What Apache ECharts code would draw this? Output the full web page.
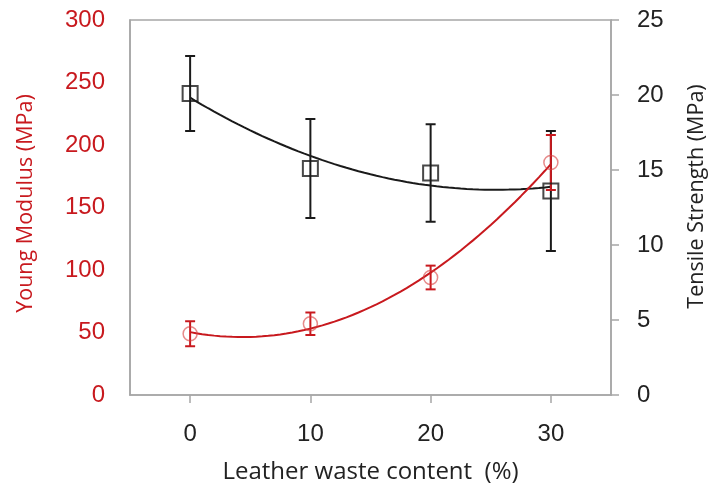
<!DOCTYPE html>
<html>
<head>
<meta charset="utf-8">
<script src="https://cdn.jsdelivr.net/npm/echarts@6/dist/echarts.min.js"></script>
<style>
  html, body { margin: 0; padding: 0; background: #fff; }
  #chart { width: 711px; height: 491px; }
</style>
</head>
<body>
<div id="chart"></div>
<script>
// Leather waste content (%)
const wasteContent = [0, 10, 20, 30];
// Young modulus (MPa) and its standard deviation
const youngModulus = [49, 57, 94, 186];
const youngModulusErr = [10, 9, 9.5, 22];
// Tensile strength (MPa) and its standard deviation
const tensileStrength = [20.1, 15.1, 14.8, 13.6];
const tensileStrengthErr = [2.5, 3.3, 3.25, 4.0];

const RED = '#c8191e';
const BLACK = '#1a1a1a';
const AXIS_GREY = '#a6a6a6';

// Second-order least-squares trendline through the measured points
function quadFit(xs, ys) {
  let n = xs.length, s1 = 0, s2 = 0, s3 = 0, s4 = 0, t0 = 0, t1 = 0, t2 = 0;
  for (let i = 0; i < n; i++) {
    const x = xs[i], y = ys[i];
    s1 += x; s2 += x * x; s3 += x * x * x; s4 += x * x * x * x;
    t0 += y; t1 += x * y; t2 += x * x * y;
  }
  // Solve the 3x3 normal equations with Cramer's rule
  const M = [[n, s1, s2], [s1, s2, s3], [s2, s3, s4]];
  const R = [t0, t1, t2];
  const det = m => m[0][0] * (m[1][1] * m[2][2] - m[1][2] * m[2][1])
                 - m[0][1] * (m[1][0] * m[2][2] - m[1][2] * m[2][0])
                 + m[0][2] * (m[1][0] * m[2][1] - m[1][1] * m[2][0]);
  const D = det(M);
  const coef = [0, 1, 2].map(k => det(M.map((row, r) => row.map((v, c) => c === k ? R[r] : v))) / D);
  return x => coef[0] + coef[1] * x + coef[2] * x * x;
}

function trendPoints(xs, ys) {
  const f = quadFit(xs, ys);
  const pts = [];
  const x0 = xs[0], x1 = xs[xs.length - 1];
  for (let i = 0; i <= 60; i++) {
    const x = x0 + (x1 - x0) * i / 60;
    pts.push([x, f(x)]);
  }
  return pts;
}

function errorBarSeries(name, yIndex, values, errs, color) {
  return {
    name: name,
    type: 'custom',
    yAxisIndex: yIndex,
    z: 3,
    data: wasteContent.map((x, i) => [x, values[i] - errs[i], values[i] + errs[i]]),
    renderItem: function (params, api) {
      const x = api.value(0);
      const lo = api.coord([x, api.value(1)]);
      const hi = api.coord([x, api.value(2)]);
      const cap = 5;
      const style = { stroke: color, lineWidth: 2, fill: null };
      return {
        type: 'group',
        children: [
          { type: 'line', shape: { x1: lo[0], y1: lo[1], x2: hi[0], y2: hi[1] }, style: style },
          { type: 'line', shape: { x1: hi[0] - cap, y1: hi[1], x2: hi[0] + cap, y2: hi[1] }, style: style },
          { type: 'line', shape: { x1: lo[0] - cap, y1: lo[1], x2: lo[0] + cap, y2: lo[1] }, style: style }
        ]
      };
    }
  };
}

const chart = echarts.init(document.getElementById('chart'), null, { renderer: 'canvas' });

const tickFont = { fontFamily: 'Liberation Sans', fontSize: 24 };
const titleFont = { fontFamily: 'Open Sans', fontSize: 21.5 };

chart.setOption({
  animation: false,
  backgroundColor: '#fff',
  grid: {
    left: 130, right: 100, top: 20, bottom: 96,
    outerBoundsMode: 'none',
    show: true, borderColor: AXIS_GREY, borderWidth: 1.5, backgroundColor: 'transparent'
  },
  xAxis: {
    type: 'value',
    min: -5, max: 35,
    name: 'Leather waste content  (%)',
    nameLocation: 'middle',
    nameGap: 65,
    nameTextStyle: Object.assign({ color: '#222' }, titleFont, { fontSize: 24 }),
    axisLine: { show: true, onZero: false, lineStyle: { color: AXIS_GREY, width: 1.5 } },
    axisTick: { show: true, length: 8, lineStyle: { color: AXIS_GREY, width: 1.5 }, customValues: wasteContent },
    axisLabel: Object.assign({ color: '#222', margin: 27, customValues: wasteContent }, tickFont),
    splitLine: { show: false }
  },
  yAxis: [
    {
      type: 'value',
      min: 0, max: 300, interval: 50,
      position: 'left',
      name: 'Young Modulus (MPa)',
      nameLocation: 'middle',
      nameGap: 93,
      nameTextStyle: Object.assign({ color: RED, padding: [0, 0, 0, 8] }, titleFont),
      axisLine: { show: true, onZero: false, lineStyle: { color: AXIS_GREY, width: 1.5 } },
      axisTick: { show: false },
      axisLabel: Object.assign({ color: RED, margin: 25 }, tickFont),
      splitLine: { show: false }
    },
    {
      type: 'value',
      min: 0, max: 25, interval: 5,
      position: 'right',
      name: 'Tensile Strength (MPa)',
      nameLocation: 'middle',
      nameGap: 75,
      nameTextStyle: Object.assign({ color: '#222', padding: [0, 0, 0, 22] }, titleFont),
      axisLine: { show: true, onZero: false, lineStyle: { color: AXIS_GREY, width: 1.5 } },
      axisTick: { show: true, inside: false, length: 8, lineStyle: { color: AXIS_GREY, width: 1.5 } },
      axisLabel: Object.assign({ color: '#222', margin: 26 }, tickFont),
      splitLine: { show: false }
    }
  ],
  series: [
    {
      name: 'Tensile strength trend',
      type: 'line',
      yAxisIndex: 1,
      data: trendPoints(wasteContent, tensileStrength),
      showSymbol: false,
      lineStyle: { color: BLACK, width: 2 },
      z: 2
    },
    errorBarSeries('Tensile strength error', 1, tensileStrength, tensileStrengthErr, BLACK),
    {
      name: 'Tensile strength',
      type: 'scatter',
      yAxisIndex: 1,
      data: wasteContent.map((x, i) => [x, tensileStrength[i]]),
      symbol: 'rect',
      symbolSize: 15,
      itemStyle: { color: 'rgba(255,255,255,0)', borderColor: BLACK, borderWidth: 2 },
      z: 4
    },
    {
      name: 'Young modulus trend',
      type: 'line',
      yAxisIndex: 0,
      data: trendPoints(wasteContent, youngModulus),
      showSymbol: false,
      lineStyle: { color: RED, width: 2 },
      z: 5
    },
    errorBarSeries('Young modulus error', 0, youngModulus, youngModulusErr, RED),
    {
      name: 'Young modulus',
      type: 'scatter',
      yAxisIndex: 0,
      data: wasteContent.map((x, i) => [x, youngModulus[i]]),
      symbol: 'circle',
      symbolSize: 14,
      itemStyle: { color: 'rgba(255,255,255,0)', borderColor: 'rgba(215,60,60,0.75)', borderWidth: 1.5 },
      z: 6
    }
  ]
});
</script>
</body>
</html>
